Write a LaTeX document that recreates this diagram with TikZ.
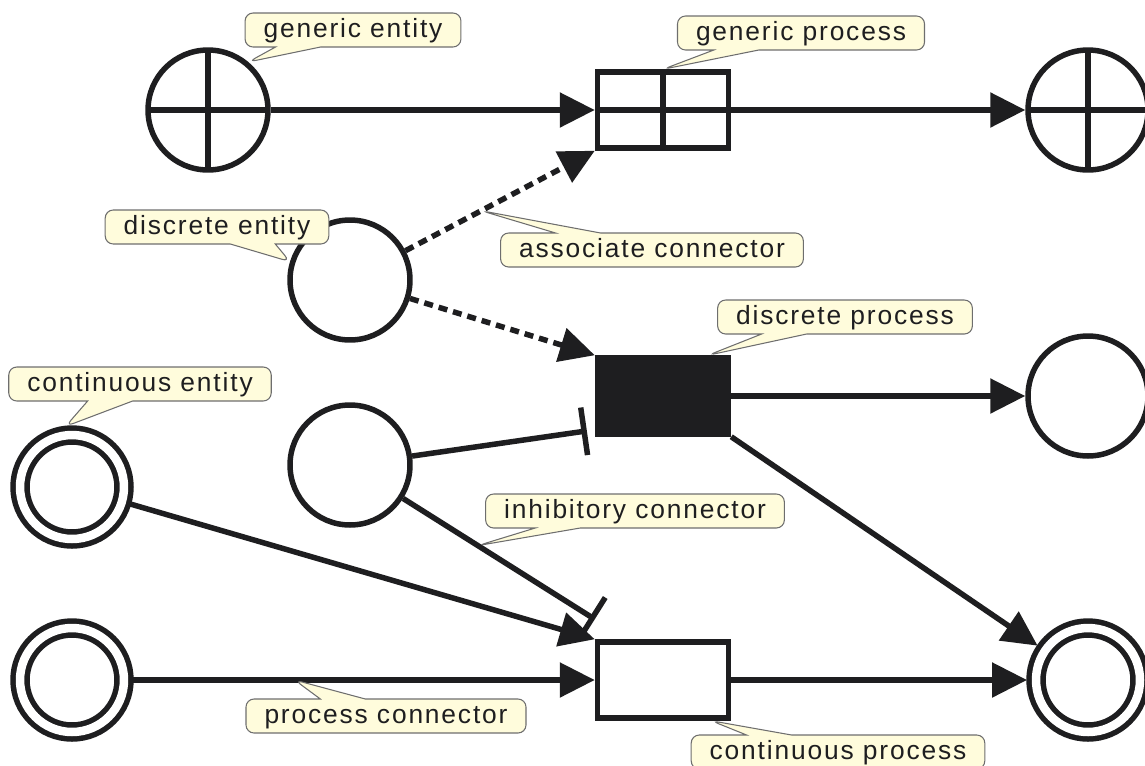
\documentclass[tikz,border=0pt]{standalone}
\usepackage{fontspec}
\newfontfamily\labelfont[LetterSpace=7]{Liberation Sans}
\usetikzlibrary{arrows.meta,shapes.callouts}
\definecolor{ink}{HTML}{1E1E20}
\definecolor{notefill}{HTML}{FFFCDC}
\definecolor{noteline}{HTML}{6E6E6E}
\tikzset{
  entity/.style={circle, draw=ink, line width=0.11cm, minimum size=2.4cm, inner sep=0pt},
  generic/.style={path picture={\draw[ink, line width=0.11cm]
      (path picture bounding box.north) -- (path picture bounding box.south)
      (path picture bounding box.west) -- (path picture bounding box.east);}},
  continuous/.style={circle, draw=ink, line width=0.11cm, double=white,
      double distance=0.17cm, minimum size=2.08cm, inner sep=0pt, outer sep=0.18cm},
  process/.style={rectangle, draw=ink, line width=0.11cm, minimum width=2.62cm,
      minimum height=1.52cm, inner sep=0pt},
  link/.style={ink, line width=0.11cm, -{Triangle[length=0.7cm, width=0.68cm]}},
  assoc/.style={link, dash pattern=on 0.18cm off 0.12cm},
  inhib/.style={ink, line width=0.11cm, -{Bar[width=0.96cm]}},
  note/.style={rectangle callout, draw=noteline, fill=notefill, line width=0.6pt,
      rounded corners=0.16cm, callout pointer width=0.9cm, minimum height=0.68cm,
      inner xsep=0.37cm, inner ysep=0pt, text=ink, text height=1.04em, text depth=0.2em,
      font=\labelfont\fontsize{15}{16}\selectfont},
}
\begin{document}
\begin{tikzpicture}[x=0.02cm, y=-0.02cm]
    \useasboundingbox (0,0) rectangle (1145,765);

    % entities and processes
    \node[entity, generic] (ge1) at (208,110) {};
    \node[process, generic] (gp) at (663,110) {};
    \node[entity, generic] (ge2) at (1088,110) {};
    \node[entity] (de1) at (350,280) {};
    \node[process, fill=ink] (dp) at (663,396) {};
    \node[entity] (de2) at (1088,396) {};
    \node[entity] (ie) at (350,465) {};
    \node[continuous] (ce1) at (72,487) {};
    \node[continuous] (ce2) at (72,680) {};
    \node[process] (cp) at (663,680) {};
    \node[continuous] (ce3) at (1088,680) {};

    % connectors
    \draw[link] (ge1) -- (gp);
    \draw[link] (gp) -- (ge2);
    \draw[assoc] (de1) -- (gp.south west) coordinate[pos=0.4] (assocpt);
    \draw[assoc] (de1) -- (dp.north west);
    \draw[link] (dp) -- (de2);
    \draw[link] (dp.south east) -- (ce3);
    \draw[inhib, shorten >=0.16cm] (ie) -- ([yshift=0.14cm]dp.south west);
    \draw[inhib] (ie) -- ([yshift=0.4cm]cp.north west) coordinate[pos=0.39] (inhibpt);
    \draw[link] (ce1) -- (cp.north west);
    \draw[link] (ce2) -- (cp) coordinate[pos=0.35] (procpt);
    \draw[link] (cp) -- (ce3);

    % callouts
    \node[note, callout absolute pointer={(ge1.50)}] (genent) at (353,30) {generic entity};
    \node[note, callout absolute pointer={(gp.north)}] (genproc) at (801,33) {generic process};
    \node[note, callout absolute pointer={(de1.163)}] (disent) at (217,227) {discrete entity};
    \node[note, callout absolute pointer={(assocpt)}] (assocnote) at (652,250) {associate connector};
    \node[note, callout absolute pointer={([xshift=0.9cm]dp.north)}] (disproc) at (845,317) {discrete process};
    \node[note, callout absolute pointer={(ce1.96)}] (conent) at (140,384) {continuous entity};
    \node[note, callout absolute pointer={(inhibpt)}] (inhibnote) at (635,511) {inhibitory connector};
    \node[note, callout absolute pointer={(procpt)}] (procnote) at (386,716) {process connector};
    \node[note, callout absolute pointer={([xshift=-0.4cm]cp.south east)}] (conproc) at (838,752) {continuous process};
\end{tikzpicture}
\end{document}
